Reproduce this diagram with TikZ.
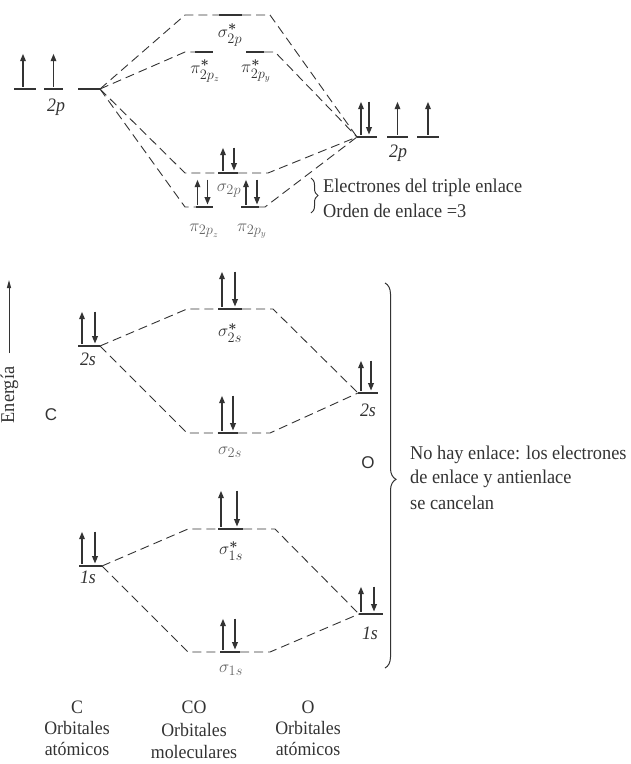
\documentclass[tikz,border=0pt]{standalone}
\usepackage{amsmath}
\usepackage{fontspec}
\setmainfont[FakeStretch=0.94]{Liberation Serif}
\newfontfamily\sansf{Liberation Sans}
\usetikzlibrary{arrows.meta,decorations.pathreplacing}
\definecolor{ink}{HTML}{333333}
\definecolor{faint}{HTML}{666666}
\newcommand\eup[4]{\draw[elec] ([xshift=#2pt,yshift=1pt]#1.north) -- ([xshift=#2pt,yshift=#3pt]#1.north);}
\newcommand\edn[3]{\draw[elec] ([xshift=#2pt,yshift=#3pt]#1.north) -- ([xshift=#2pt,yshift=1pt]#1.north);}
\newcommand\epair[4]{\eup{#1}{#2}{#4}{}\edn{#1}{#3}{#4}}
\newcommand\bst{\boldsymbol{*}}
\begin{document}
\begin{tikzpicture}[x=1pt,y=-1pt,
  lvl/.style={fill=ink,draw=none,minimum height=2.6pt,inner sep=0pt,outer sep=0pt},
  conn/.style={draw=ink,line width=0.9pt,dash pattern=on 9pt off 5pt},
  elec/.style={draw=ink,line width=1.7pt,-{Triangle[length=7.5pt,width=5.5pt]}},
  lab/.style={font=\fontsize{19}{22}\selectfont,inner sep=0pt,text=ink},
  flab/.style={lab,text=faint},
  txt/.style={font=\fontsize{19.5}{23}\selectfont,inner sep=0pt,text=ink,anchor=west},
  col/.style={font=\fontsize{19}{22}\selectfont,inner sep=0pt,text=ink},
  atom/.style={font=\sansf\fontsize{17}{20}\selectfont,inner sep=0pt,text=ink},
  brc/.style={draw=ink,line width=1pt,decorate}
]
\useasboundingbox (0,0) rectangle (631,764);

% ---- levels ----
\node[lvl,minimum width=22pt] (c2pa) at (25,89) {};
\node[lvl,minimum width=19pt] (c2pb) at (53.5,89) {};
\node[lvl,minimum width=22pt] (c2pc) at (89,89) {};
\node[lvl,minimum width=20pt] (o2pa) at (367,137) {};
\node[lvl,minimum width=21pt] (o2pb) at (397.5,137) {};
\node[lvl,minimum width=22pt] (o2pc) at (428,137) {};
\node[lvl,minimum width=23pt] (ss2p) at (230.5,15) {};
\node[lvl,minimum width=18pt] (ps2pz) at (204,52) {};
\node[lvl,minimum width=18pt] (ps2py) at (255,52) {};
\node[lvl,minimum width=20pt] (s2p) at (228,173) {};
\node[lvl,minimum width=17pt] (p2pz) at (204.5,207) {};
\node[lvl,minimum width=18pt] (p2py) at (250,207) {};
\node[lvl,minimum width=22pt] (c2s) at (89,346) {};
\node[lvl,minimum width=20pt] (o2s) at (368,393) {};
\node[lvl,minimum width=24pt] (ss2s) at (230,309) {};
\node[lvl,minimum width=20pt] (s2s) at (228,433) {};
\node[lvl,minimum width=23pt] (c1s) at (90.5,566) {};
\node[lvl,minimum width=24pt] (o1s) at (371,614) {};
\node[lvl,minimum width=25pt] (ss1s) at (230.5,529) {};
\node[lvl,minimum width=20pt] (s1s) at (230,652) {};

% ---- electrons ----
\eup{c2pa}{-2}{34}{}
\eup{c2pb}{0}{34}{}
\epair{o2pa}{-6}{2}{34}
\eup{o2pb}{0}{34}{}
\eup{o2pc}{0}{34}{}
\epair{s2p}{-5}{6}{24}
\epair{p2pz}{-7}{3}{26}
\epair{p2py}{-4}{7}{26}
\epair{c2s}{-7}{6}{33}
\epair{o2s}{-7}{3}{31}
\epair{ss2s}{-8}{5}{36}
\epair{s2s}{-6}{5}{36}
\epair{c1s}{-8.5}{4.5}{33}
\epair{ss1s}{-9.5}{6.5}{37}
\epair{s1s}{-7}{5}{32}
\epair{o1s}{-10}{3}{26}

% ---- connectors ----
\draw[conn] (c2pc.east) -- (185,15) -- (ss2p.west);
\draw[conn] (ss2p.east) -- (270,15) -- (o2pa.west);
\draw[conn] (c2pc.east) -- (185,52) -- (ps2pz.west);
\draw[conn] (ps2py.east) -- (275,52) -- (o2pa.west);
\draw[conn] (c2pc.east) -- (185,173) -- (s2p.west);
\draw[conn] (s2p.east) -- (268,173) -- (o2pa.west);
\draw[conn] (c2pc.east) -- (185,207) -- (p2pz.west);
\draw[conn] (p2py.east) -- (265,207) -- (o2pa.west);
\draw[conn] (c2s.east) -- (187,309) -- (ss2s.west);
\draw[conn] (ss2s.east) -- (273,309) -- (o2s.west);
\draw[conn] (c2s.east) -- (187,433) -- (s2s.west);
\draw[conn] (s2s.east) -- (270,433) -- (o2s.west);
\draw[conn] (c1s.east) -- (188,529) -- (ss1s.west);
\draw[conn] (ss1s.east) -- (275,529) -- (o1s.west);
\draw[conn] (c1s.east) -- (188,652) -- (s1s.west);
\draw[conn] (s1s.east) -- (270,652) -- (o1s.west);

% ---- orbital labels ----
\node[lab] (l1) at (56,107) {\textit{2p}};
\node[lab] (l2) at (398,153) {\textit{2p}};
\node[lab] (l3) at (230,35) {$\sigma^{\bst}_{2p}$};
\node[lab] (l4) at (205,71) {$\pi^{\bst}_{2p_z}$};
\node[lab] (l5) at (256,71) {$\pi^{\bst}_{2p_y}$};
\node[flab] (l6) at (229,191) {$\sigma_{2p}$};
\node[flab] (l7) at (204,231) {$\pi_{2p_z}$};
\node[flab] (l8) at (252,231) {$\pi_{2p_y}$};
\node[lab] (l9) at (88,359) {\textit{2s}};
\node[lab] (l10) at (230,333) {$\sigma^{\bst}_{2s}$};
\node[flab] (l11) at (230,452) {$\sigma_{2s}$};
\node[lab] (l12) at (368,410) {\textit{2s}};
\node[lab] (l13) at (88,577) {\textit{1s}};
\node[lab] (l14) at (231,551) {$\sigma^{\bst}_{1s}$};
\node[flab] (l15) at (231,670) {$\sigma_{1s}$};
\node[lab] (l16) at (370,633) {\textit{1s}};

% ---- braces and notes ----
\draw[brc,decoration={brace,amplitude=7pt}] (311,178) -- (311,213);
\node[txt] (t1) at (323,188) {Electrones del triple enlace};
\node[txt] (t2) at (323,211) {Orden de enlace =3};
\draw[brc,decoration={brace,amplitude=11pt,aspect=0.51}] (385,283) -- (385,668);
\node[txt] (t3) at (410,455) {No hay enlace: los electrones};
\node[txt] (t4) at (410,479) {de enlace y antienlace};
\node[txt] (t5) at (410,503) {se cancelan};

% ---- energy axis ----
\coordinate (eb) at (9,353);
\coordinate (et) at (9,280);
\draw[draw=ink,line width=1pt,-{Triangle[length=8pt,width=4pt]}] (eb) -- (et);
\node[txt,anchor=center,rotate=90] (en) at (9.5,395) {Energía};

\node[atom] (ac) at (51,415) {C};
\node[atom] (ao) at (368,463) {O};

% ---- column captions ----
\node[col] (b1) at (77,707) {C};
\node[col] (b2) at (77,728) {Orbitales};
\node[col] (b3) at (77,749) {atómicos};
\node[col] (b4) at (194,707) {CO};
\node[col] (b5) at (194,730) {Orbitales};
\node[col] (b6) at (194,752) {moleculares};
\node[col] (b7) at (308,707) {O};
\node[col] (b8) at (308,728) {Orbitales};
\node[col] (b9) at (308,749) {atómicos};
\end{tikzpicture}
\end{document}
